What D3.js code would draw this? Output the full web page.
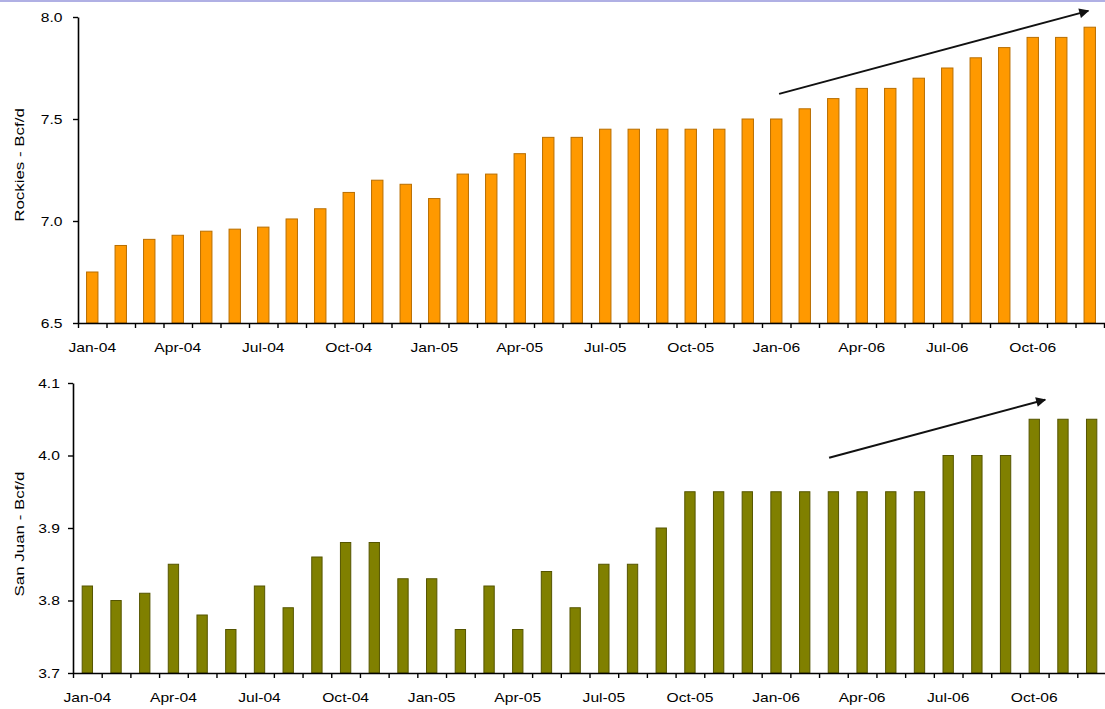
<!DOCTYPE html>
<html>
<head>
<meta charset="utf-8">
<script src="https://cdn.jsdelivr.net/npm/d3@7/dist/d3.min.js"></script>
<style>
  html, body { margin: 0; padding: 0; background: #fff; }
  svg { display: block; }
  text { font-family: "Liberation Sans", Arial, sans-serif; fill: #000; }
</style>
</head>
<body>
<svg id="chart" width="1105" height="709"></svg>
<script>
// ---- Data ----
const months = [
  "Jan-04","Feb-04","Mar-04","Apr-04","May-04","Jun-04","Jul-04","Aug-04","Sep-04","Oct-04","Nov-04","Dec-04",
  "Jan-05","Feb-05","Mar-05","Apr-05","May-05","Jun-05","Jul-05","Aug-05","Sep-05","Oct-05","Nov-05","Dec-05",
  "Jan-06","Feb-06","Mar-06","Apr-06","May-06","Jun-06","Jul-06","Aug-06","Sep-06","Oct-06","Nov-06","Dec-06"
];
const tickLabels = ["Jan-04","Apr-04","Jul-04","Oct-04","Jan-05","Apr-05","Jul-05","Oct-05","Jan-06","Apr-06","Jul-06","Oct-06"];

const rockies = [
  6.75, 6.88, 6.91, 6.93, 6.95, 6.96, 6.97, 7.01, 7.06, 7.14, 7.20, 7.18,
  7.11, 7.23, 7.23, 7.33, 7.41, 7.41, 7.45, 7.45, 7.45, 7.45, 7.45, 7.50,
  7.50, 7.55, 7.60, 7.65, 7.65, 7.70, 7.75, 7.80, 7.85, 7.90, 7.90, 7.95
];
const sanJuan = [
  3.82, 3.80, 3.81, 3.85, 3.78, 3.76, 3.82, 3.79, 3.86, 3.88, 3.88, 3.83,
  3.83, 3.76, 3.82, 3.76, 3.84, 3.79, 3.85, 3.85, 3.90, 3.95, 3.95, 3.95,
  3.95, 3.95, 3.95, 3.95, 3.95, 3.95, 4.00, 4.00, 4.00, 4.05, 4.05, 4.05
];
const rockiesTicks = [6.5, 7.0, 7.5, 8.0];
const sanJuanTicks = [3.7, 3.8, 3.9, 4.0, 4.1];
// trend arrows: [month index, value]
const rockiesArrow = [[24.6, 7.623], [35.45, 8.03]];
const sanJuanArrow = [[26.35, 3.997], [33.88, 4.077]];

// ---- Drawing ----
const svg = d3.select("#chart");
svg.append("rect").attr("x", 0).attr("y", 0).attr("width", 1105).attr("height", 2).attr("fill", "#b0b0e4");

const defs = svg.append("defs");
defs.append("marker")
  .attr("id", "arrowhead")
  .attr("viewBox", "0 0 10 10")
  .attr("refX", 9).attr("refY", 5)
  .attr("markerWidth", 6).attr("markerHeight", 5)
  .attr("markerUnits", "strokeWidth")
  .attr("orient", "auto")
  .append("path").attr("d", "M0,0 L10,5 L0,10 Z").attr("fill", "#111");

const SX = 1.25;

function panel(cfg) {
  const g = svg.append("g");
  const x = d3.scaleBand().domain(months).range([cfg.left, cfg.right])
    .paddingInner(cfg.pad).paddingOuter(cfg.pad / 2);
  const xi = d3.scaleLinear().domain([0, months.length]).range([cfg.left, cfg.right]);
  const y = d3.scaleLinear().domain(cfg.domain).range([cfg.bottom, cfg.top]);

  // bars
  g.append("g").selectAll("rect").data(cfg.values).join("rect")
    .attr("x", (d, i) => x(months[i]))
    .attr("width", x.bandwidth())
    .attr("y", d => y(d))
    .attr("height", d => y(cfg.domain[0]) - y(d))
    .attr("fill", cfg.fill)
    .attr("stroke", cfg.stroke)
    .attr("stroke-width", 1);

  // x ticks at category boundaries
  const tickAxis = g.append("g").attr("transform", `translate(0,${cfg.bottom})`)
    .call(d3.axisBottom(xi).tickValues(d3.range(0, months.length + 1)).tickSize(5).tickSizeOuter(0).tickFormat(""));
  tickAxis.select(".domain").attr("stroke", "#000").attr("stroke-width", 1.6)
    .attr("d", `M${cfg.left},0.5H1105`);
  tickAxis.selectAll(".tick line").attr("stroke", "#000").attr("stroke-width", 1.4);

  // x labels
  const lab = g.append("g").attr("transform", `translate(0,${cfg.bottom})`)
    .call(d3.axisBottom(x).tickValues(tickLabels).tickSize(0));
  lab.select(".domain").remove();
  lab.selectAll(".tick text")
    .attr("y", 20).attr("dy", "0.71em")
    .attr("transform", `scale(${SX},1)`)
    .style("font-size", "12.5px").style("font-family", "'Liberation Sans', Arial, sans-serif");

  // y axis
  const ya = g.append("g").attr("transform", `translate(${cfg.left},0)`)
    .call(d3.axisLeft(y).tickValues(cfg.ticks).tickFormat(d3.format(".1f")).tickSize(5).tickSizeOuter(0));
  ya.select(".domain").attr("stroke", "#000").attr("stroke-width", 1.6);
  ya.selectAll(".tick line").attr("stroke", "#000").attr("stroke-width", 1.4);
  ya.selectAll(".tick text")
    .attr("x", -cfg.labelGap)
    .attr("transform", `scale(${SX},1)`)
    .style("font-size", "12.5px").style("font-family", "'Liberation Sans', Arial, sans-serif");

  // y title
  g.append("text")
    .attr("transform", `translate(${cfg.titleX},${cfg.titleY}) rotate(-90) scale(1.3,1)`)
    .attr("text-anchor", "middle")
    .style("font-size", "13px")
    .text(cfg.title);

  // trend arrow
  g.append("line")
    .attr("x1", xi(cfg.arrow[0][0])).attr("y1", y(cfg.arrow[0][1]))
    .attr("x2", xi(cfg.arrow[1][0])).attr("y2", y(cfg.arrow[1][1]))
    .attr("stroke", "#111").attr("stroke-width", 2)
    .attr("marker-end", "url(#arrowhead)");
}

panel({
  values: rockies, domain: [6.5, 8.0], ticks: rockiesTicks,
  left: 78, right: 1104, top: 17, bottom: 323, pad: 0.6,
  fill: "#ff9900", stroke: "#b86e00",
  title: "Rockies - Bcf/d", titleX: 24, titleY: 165, labelGap: 12.4,
  arrow: rockiesArrow
});

panel({
  values: sanJuan, domain: [3.7, 4.1], ticks: sanJuanTicks,
  left: 73, right: 1106, top: 383, bottom: 673, pad: 0.64,
  fill: "#808000", stroke: "#555500",
  title: "San Juan - Bcf/d", titleX: 24, titleY: 534, labelGap: 10.5,
  arrow: sanJuanArrow
});
</script>
</body>
</html>
